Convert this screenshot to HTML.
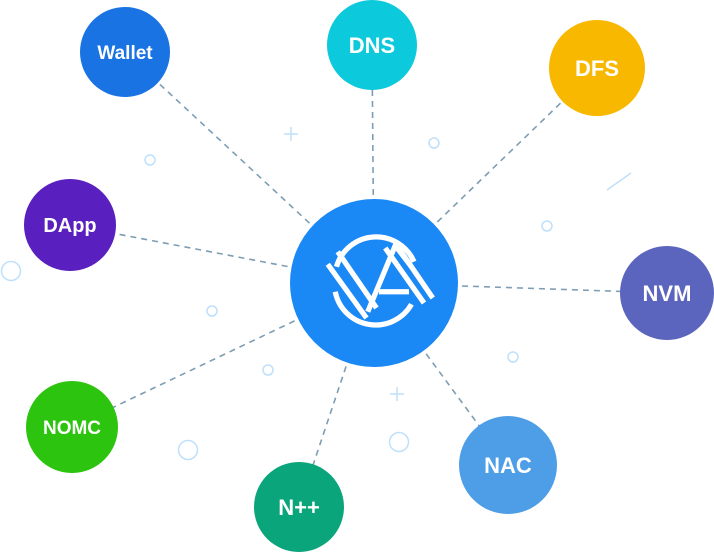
<!DOCTYPE html>
<html><head><meta charset="utf-8"><style>
html,body{margin:0;padding:0;background:#fff;width:714px;height:552px;overflow:hidden}
svg{display:block}
text{font-family:"Liberation Sans",sans-serif;font-weight:bold;fill:#fff;text-anchor:middle}
</style></head><body>
<svg width="714" height="552" viewBox="0 0 714 552">
<g stroke="#7d9db3" stroke-width="1.6" stroke-dasharray="6,5" fill="none">
<line x1="374" y1="283" x2="125" y2="52"/>
<line x1="374" y1="283" x2="372" y2="45"/>
<line x1="374" y1="283" x2="597" y2="68"/>
<line x1="374" y1="283" x2="70" y2="225"/>
<line x1="374" y1="283" x2="667" y2="293"/>
<line x1="374" y1="283" x2="72" y2="427"/>
<line x1="374" y1="283" x2="299" y2="507"/>
<line x1="374" y1="283" x2="508" y2="465"/>
</g>
<g fill="none" stroke="#bfe0fb" stroke-width="1.5">
<circle cx="150" cy="160" r="5"/>
<circle cx="11" cy="271" r="9.5"/>
<circle cx="212" cy="311" r="5"/>
<circle cx="268" cy="370" r="5"/>
<circle cx="188" cy="450" r="9.5"/>
<circle cx="399" cy="442" r="9.5"/>
<circle cx="434" cy="143" r="5"/>
<circle cx="547" cy="226" r="5"/>
<circle cx="513" cy="357" r="5"/>
<line x1="607" y1="190" x2="631" y2="173"/>
<line x1="284" y1="134" x2="298" y2="134"/><line x1="291" y1="127" x2="291" y2="141"/>
<line x1="390" y1="394" x2="404" y2="394"/><line x1="397" y1="387" x2="397" y2="401"/>
</g>
<circle cx="374" cy="283" r="84" fill="#1a88f5"/>
<g transform="translate(374 283) scale(1.25) translate(-374 -283)" stroke="#fff" stroke-width="4.2" fill="none">
<path d="M344 270 A33 33 0 0 1 406 266"/>
<path d="M404 300 A33 33 0 0 1 343 290"/>
<line x1="337" y1="268" x2="368" y2="311"/>
<line x1="345" y1="258" x2="376" y2="303"/>
<polyline points="369,306 391,253 404,270"/>
<line x1="383" y1="255" x2="414" y2="299"/>
<line x1="393" y1="254" x2="421" y2="295"/>
<line x1="378" y1="290" x2="402" y2="290"/>
</g>
<circle cx="125" cy="52" r="45" fill="#1a73e3"/><text x="125" y="59" font-size="19">Wallet</text>
<circle cx="372" cy="45" r="45" fill="#0ccadb"/><text x="372" y="53" font-size="22">DNS</text>
<circle cx="597" cy="68" r="48" fill="#f8b800"/><text x="597" y="76" font-size="22">DFS</text>
<circle cx="70" cy="225" r="46" fill="#5a1fbf"/><text x="70" y="232" font-size="20">DApp</text>
<circle cx="667" cy="293" r="47" fill="#5c65bd"/><text x="667" y="301" font-size="22">NVM</text>
<circle cx="72" cy="427" r="46" fill="#2cc40e"/><text x="72" y="434" font-size="19">NOMC</text>
<circle cx="299" cy="507" r="45" fill="#0ba57b"/><text x="299" y="515" font-size="22">N++</text>
<circle cx="508" cy="465" r="49" fill="#4d9ee6"/><text x="508" y="473" font-size="22">NAC</text>
</svg>
</body></html>
